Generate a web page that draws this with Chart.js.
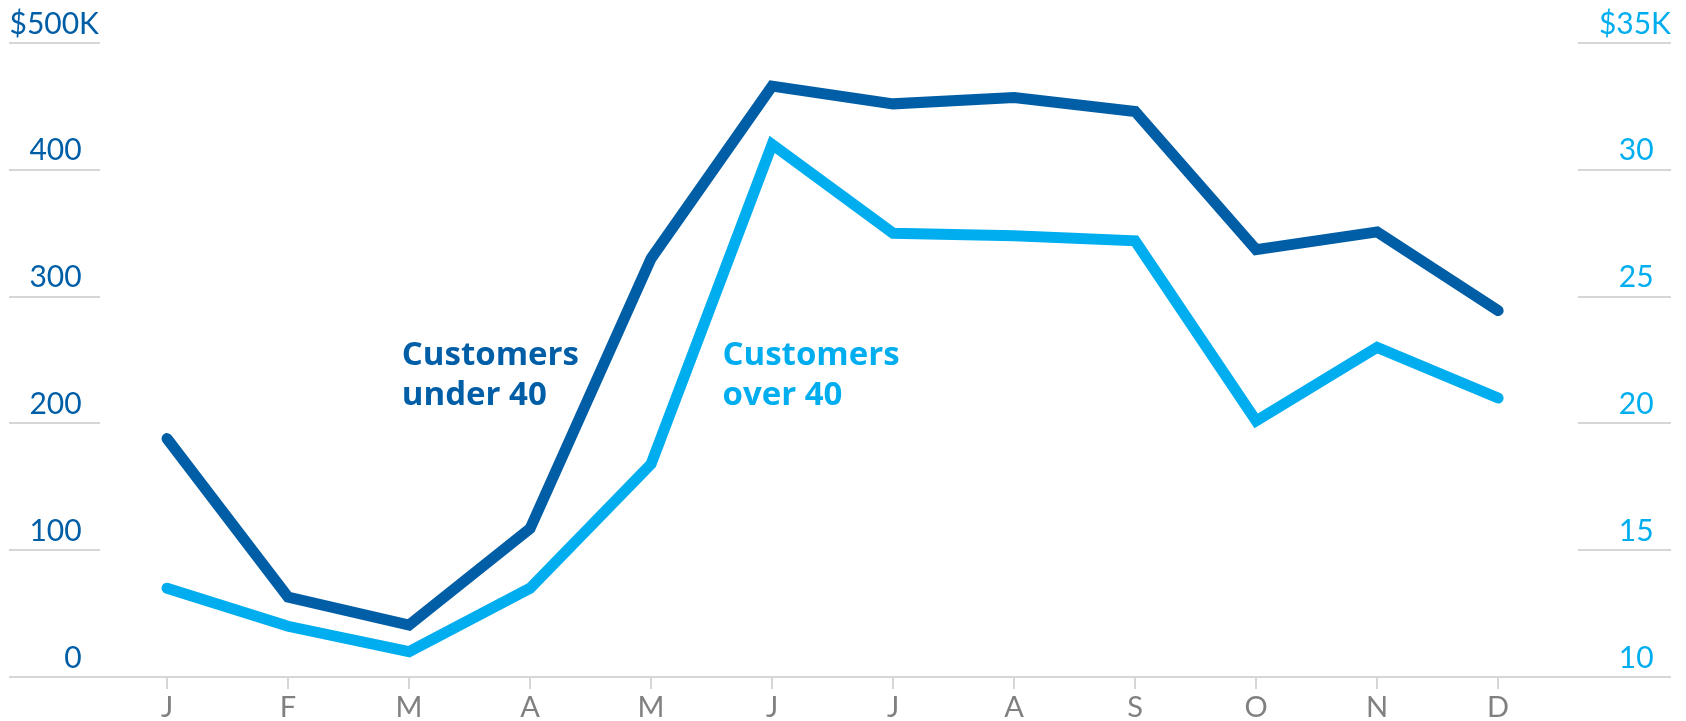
<!DOCTYPE html>
<html>
<head>
<meta charset="utf-8">
<script src="https://cdn.jsdelivr.net/npm/chart.js@4.4.1/dist/chart.umd.min.js"></script>
<style>
  html, body { margin: 0; padding: 0; background: #fff; }
  #wrap { width: 1686px; height: 721px; }
</style>
</head>
<body>
<div id="wrap"><canvas id="myChart" width="1686" height="721"></canvas></div>
<script>
const months = ["J", "F", "M", "A", "M", "J", "J", "A", "S", "O", "N", "D"];
// left axis, $K
const under40 = [188, 63, 41, 117, 330, 466, 452, 457, 446, 337, 351, 289];
// right axis, $K
const over40 = [13.5, 12.0, 11.0, 13.5, 18.4, 31.0, 27.5, 27.4, 27.2, 20.1, 23.0, 21.0];

const leftTicks = [0, 100, 200, 300, 400, 500];
const rightTicks = [10, 15, 20, 25, 30, 35];

const darkBlue = "#005ea6";
const lightBlue = "#00aeef";
const gridGray = "#d6d6d6";
const font = "Lato";

// series labels drawn on the plot (x in month index, y in left-axis units)
const notes = [
  { text: ["Customers", "under 40"], x: 1.94, y: 246, color: darkBlue },
  { text: ["Customers", "over 40"], x: 4.59, y: 246, color: lightBlue },
];

const notePlugin = {
  id: "notes",
  afterDatasetsDraw(chart) {
    const c = chart.ctx;
    const xs = chart.scales.x;
    const ys = chart.scales.y;
    c.save();
    c.font = "bold 33px 'Open Sans'";
    c.textAlign = "left";
    c.textBaseline = "alphabetic";
    notes.forEach((n) => {
      const px = xs.getPixelForValue(n.x);
      const py = ys.getPixelForValue(n.y);
      c.fillStyle = n.color;
      n.text.forEach((t, i) => c.fillText(t, px, py + i * 40));
    });
    c.restore();
  },
};

const ctx = document.getElementById("myChart").getContext("2d");

const myChart = new Chart(ctx, {
  type: "line",
  data: {
    datasets: [
      {
        label: "Customers under 40",
        data: under40.map((v, i) => ({ x: i, y: v })),
        borderColor: darkBlue,
        yAxisID: "y",
      },
      {
        label: "Customers over 40",
        data: over40.map((v, i) => ({ x: i, y: v })),
        borderColor: lightBlue,
        yAxisID: "y2",
      },
    ],
  },
  options: {
    responsive: false,
    animation: false,
    layout: { padding: { top: 43, left: 9, right: 15, bottom: 0 } },
    elements: {
      line: { borderWidth: 11, tension: 0, borderCapStyle: "round", borderJoinStyle: "miter" },
      point: { radius: 0 },
    },
    plugins: { legend: { display: false }, tooltip: { enabled: false } },
    scales: {
      x: {
        type: "linear",
        min: -0.554,
        max: 11.66,
        afterBuildTicks: (s) => { s.ticks = months.map((m, i) => ({ value: i })); },
        afterFit: (s) => { s.height = 44; },
        border: { display: true, color: gridGray, width: 2 },
        grid: { drawOnChartArea: false, drawTicks: true, tickLength: 12, color: gridGray, lineWidth: 2 },
        ticks: {
          callback: (v) => months[v],
          color: "#808080",
          font: { family: font, size: 29 },
          padding: 1,
          maxRotation: 0,
          autoSkip: false,
        },
      },
      y: {
        position: "left",
        min: 0,
        max: 500,
        afterBuildTicks: (s) => { s.ticks = leftTicks.map((v) => ({ value: v })); },
        afterFit: (s) => { s.width = 91; },
        border: { display: false },
        grid: { drawOnChartArea: false, drawTicks: true, tickLength: 91, color: gridGray, lineWidth: 2 },
        ticks: {
          callback: (v) => (v === 500 ? "$500K" : v + "\u2007"),
          color: darkBlue,
          font: { family: font, size: 30 },
          crossAlign: "near",
          padding: -90,
          labelOffset: -19,
        },
      },
      y2: {
        position: "right",
        min: 10,
        max: 35,
        afterBuildTicks: (s) => { s.ticks = rightTicks.map((v) => ({ value: v })); },
        afterFit: (s) => { s.width = 93; },
        border: { display: false },
        grid: { drawOnChartArea: false, drawTicks: true, tickLength: 93, color: gridGray, lineWidth: 2 },
        ticks: {
          callback: (v) => (v === 35 ? "$35K" : v + "\u2007"),
          color: lightBlue,
          font: { family: font, size: 30 },
          crossAlign: "far",
          labelOffset: -19,
        },
      },
    },
  },
  plugins: [notePlugin],
});
</script>
</body>
</html>
